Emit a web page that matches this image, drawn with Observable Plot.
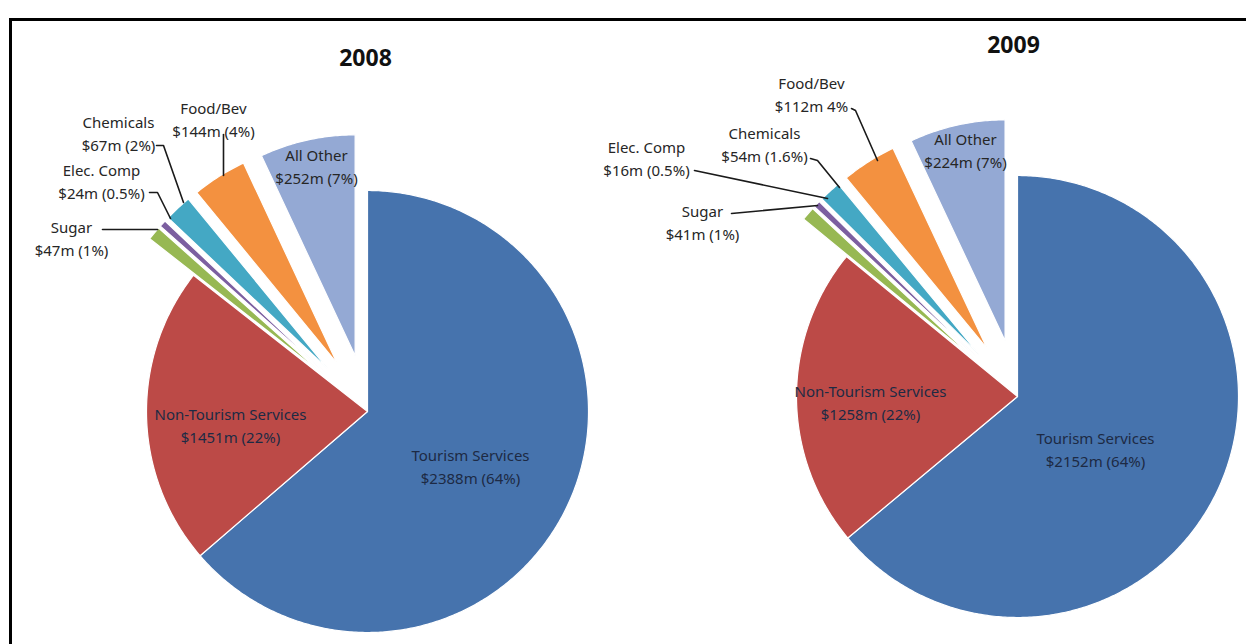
<!DOCTYPE html>
<html><head><meta charset="utf-8">
<script src="https://cdn.jsdelivr.net/npm/d3@7"></script>
<script src="https://cdn.jsdelivr.net/npm/@observablehq/plot@0.6"></script>
<style>
html,body{margin:0;padding:0;background:#fff;overflow:hidden}
body{width:1246px;height:644px;position:relative;font-family:"Noto Sans",sans-serif}
#frame{position:absolute;left:9px;top:18px;width:1237px;height:626px;border-left:3px solid #000;border-top:3px solid #000;box-sizing:border-box}
#chart{position:absolute;left:0;top:0}
</style></head><body><div id="frame"></div><div id="chart"></div>
<script>
// ---- data ----
const categories = ["Tourism Services","Non-Tourism Services","Sugar","Elec. Comp","Chemicals","Food/Bev","All Other"];
const years = ["2008","2009"];
const values2008 = [2388,1451,47,24,67,144,252];
const shares2008 = [64,22,1,0.5,2,4,7];
const shareText2008 = ["(64%)","(22%)","(1%)","(0.5%)","(2%)","(4%)","(7%)"];
const values2009 = [2152,1258,41,16,54,112,224];
const shares2009 = [64,22,1,0.5,1.6,4,7];
const shareText2009 = ["(64%)","(22%)","(1%)","(0.5%)","(1.6%)","4%","(7%)"];
const colors = ["#4673AD","#BC4A47","#97B853","#7C5FA0","#44A8C4","#F39140","#94A9D4"];
const exploded = [false,false,true,true,true,true,true];

// ---- layout ----
const W = 1246, H = 644;
const R = 221, EXPLODE = 57;
const pies = {
  "2008": {cx:367, cy:411, title:[365,58],
    labels:[[470,465],[230,424],[71,237],[101,180],[118,132],[213,118],[316,165]],
    leaders:{2:[[157,229],[102,229]],3:[[170,218],[157,192],[149,192]],4:[[183,202],[163,145],[156,145]],5:[[223,175],[223,134]]}},
  "2009": {cx:1017, cy:396, title:[1013,45],
    labels:[[1095,448],[870,401],[702,221],[646,157],[764,143],[811,93],[965,149]],
    leaders:{2:[[817,205],[731,213]],3:[[827,198],[694,170]],4:[[839,187],[817,160],[810,158]],5:[[877,160],[855,110],[851,108]]}}
};
const series = {"2008":{values:values2008,shares:shares2008,pct:shareText2008},
                "2009":{values:values2009,shares:shares2009,pct:shareText2009}};

const slicePts = [], labelRows = [], leaderPts = [], titleRows = [];
for (const yr of years) {
  const s = series[yr], p = pies[yr];
  const arcs = d3.pie().sort(null).value(d => d)(s.shares);
  arcs.forEach((a, i) => {
    const mid = (a.startAngle + a.endAngle) / 2;
    const off = exploded[i] ? EXPLODE : 0;
    const ox = p.cx + off * Math.sin(mid), oy = p.cy - off * Math.cos(mid);
    const key = yr + "-" + i;
    slicePts.push({key, x: ox, y: oy, color: colors[i]});
    const n = Math.max(2, Math.ceil((a.endAngle - a.startAngle) / 0.01));
    for (let k = 0; k <= n; k++) {
      const t = a.startAngle + (a.endAngle - a.startAngle) * k / n;
      slicePts.push({key, x: ox + R * Math.sin(t), y: oy - R * Math.cos(t), color: colors[i]});
    }
    labelRows.push({x: p.labels[i][0], y: p.labels[i][1],
      text: categories[i] + "\n$" + s.values[i] + "m " + s.pct[i],
      big: i < 2});
    if (p.leaders[i]) p.leaders[i].forEach(([x, y]) => leaderPts.push({key, x, y}));
  });
  titleRows.push({x: p.title[0], y: p.title[1], text: yr});
}

const chart = Plot.plot({
  width: W, height: H, margin: 0,
  style: {background: "transparent", fontFamily: "Noto Sans, sans-serif"},
  x: {domain: [0, W], range: [0, W], axis: null},
  y: {domain: [0, H], range: [0, H], axis: null},
  color: {type: "identity"},
  marks: [
    Plot.line(slicePts, {x: "x", y: "y", z: "key", fill: "color", stroke: "white", strokeWidth: 1.2, curve: "linear-closed"}),
    Plot.line(leaderPts, {x: "x", y: "y", z: "key", stroke: "#1a1a1a", strokeWidth: 1.6, curve: "linear"}),
    Plot.text(labelRows, {x: "x", y: "y", text: "text", fontSize: 15, lineHeight: 1.52,
      fill: d => d.big ? "#1d2a44" : "#262626", textAnchor: "middle", lineAnchor: "middle"}),
    Plot.text(titleRows, {x: "x", y: "y", text: "text", fontSize: 23, fontWeight: "bold", fill: "#111", textAnchor: "middle", lineAnchor: "middle"})
  ]
});
document.getElementById("chart").appendChild(chart);
</script></body></html>
